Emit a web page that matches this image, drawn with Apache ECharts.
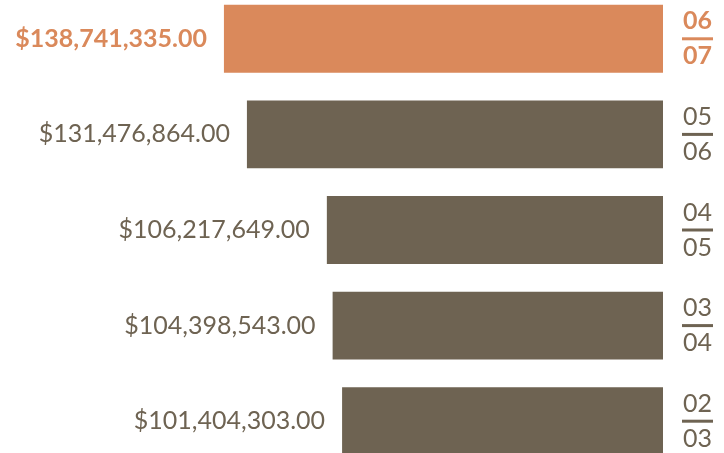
<!DOCTYPE html>
<html>
<head>
<meta charset="utf-8">
<script src="https://cdn.jsdelivr.net/npm/echarts@6/dist/echarts.min.js"></script>
<style>
  html, body { margin: 0; padding: 0; background: #ffffff; }
  #main { width: 724px; height: 453px; }
</style>
</head>
<body>
<div id="main"></div>
<script>
  // 财年（上下两行）与金额
  var yearsFrom = ['06', '05', '04', '03', '02'];
  var yearsTo = ['07', '06', '05', '04', '03'];
  var amounts = [138741335, 131476864, 106217649, 104398543, 101404303];
  var highlightIndex = 0;

  var orange = '#da895b';
  var brown = '#6e6352';

  var chart = echarts.init(document.getElementById('main'));

  function money(v) {
    var s = String(Math.round(v));
    return '$' + s.replace(/\B(?=(\d{3})+(?!\d))/g, ',') + '.00';
  }

  var categories = yearsFrom.map(function (a, i) { return a + '/' + yearsTo[i]; });

  var option = {
    animation: false,
    grid: { left: 0, right: 61, top: -9, height: 478, outerBoundsMode: 'none', containLabel: false },
    xAxis: {
      type: 'value',
      inverse: true,
      min: 0,
      max: 209.5e6,
      show: false
    },
    yAxis: {
      type: 'category',
      inverse: true,
      position: 'right',
      data: categories,
      axisLine: { show: false },
      axisTick: { show: false },
      splitLine: { show: false },
      axisLabel: {
        margin: 19,
        align: 'left',
        formatter: function (value, idx) {
          var p = value.split('/');
          var k = idx === highlightIndex ? 'h' : 'n';
          return '{' + k + '|' + p[0] + '}\n{' + k + 'l| }\n{' + k + '|' + p[1] + '}';
        },
        rich: {
          n: { fontFamily: 'Lato', fontSize: 25, lineHeight: 27, color: brown, width: 31, align: 'center' },
          h: { fontFamily: 'Lato', fontSize: 25, fontWeight: 'bold', lineHeight: 27, color: orange, width: 31, align: 'center' },
          nl: { width: 31, height: 3, lineHeight: 8, backgroundColor: brown, fontSize: 1 },
          hl: { width: 31, height: 3, lineHeight: 8, backgroundColor: orange, fontSize: 1 }
        }
      }
    },
    series: [{
      type: 'bar',
      barCategoryGap: '29%',
      data: amounts.map(function (v, i) {
        var c = i === highlightIndex ? orange : brown;
        return {
          value: v,
          itemStyle: { color: c },
          label: {
            color: c,
            fontWeight: i === highlightIndex ? 'bold' : 'normal'
          }
        };
      }),
      label: {
        show: true,
        position: 'left',
        distance: 17,
        fontFamily: 'Lato',
        fontSize: 25,
        formatter: function (p) { return money(p.value); }
      }
    }]
  };

  chart.setOption(option);
</script>
</body>
</html>
